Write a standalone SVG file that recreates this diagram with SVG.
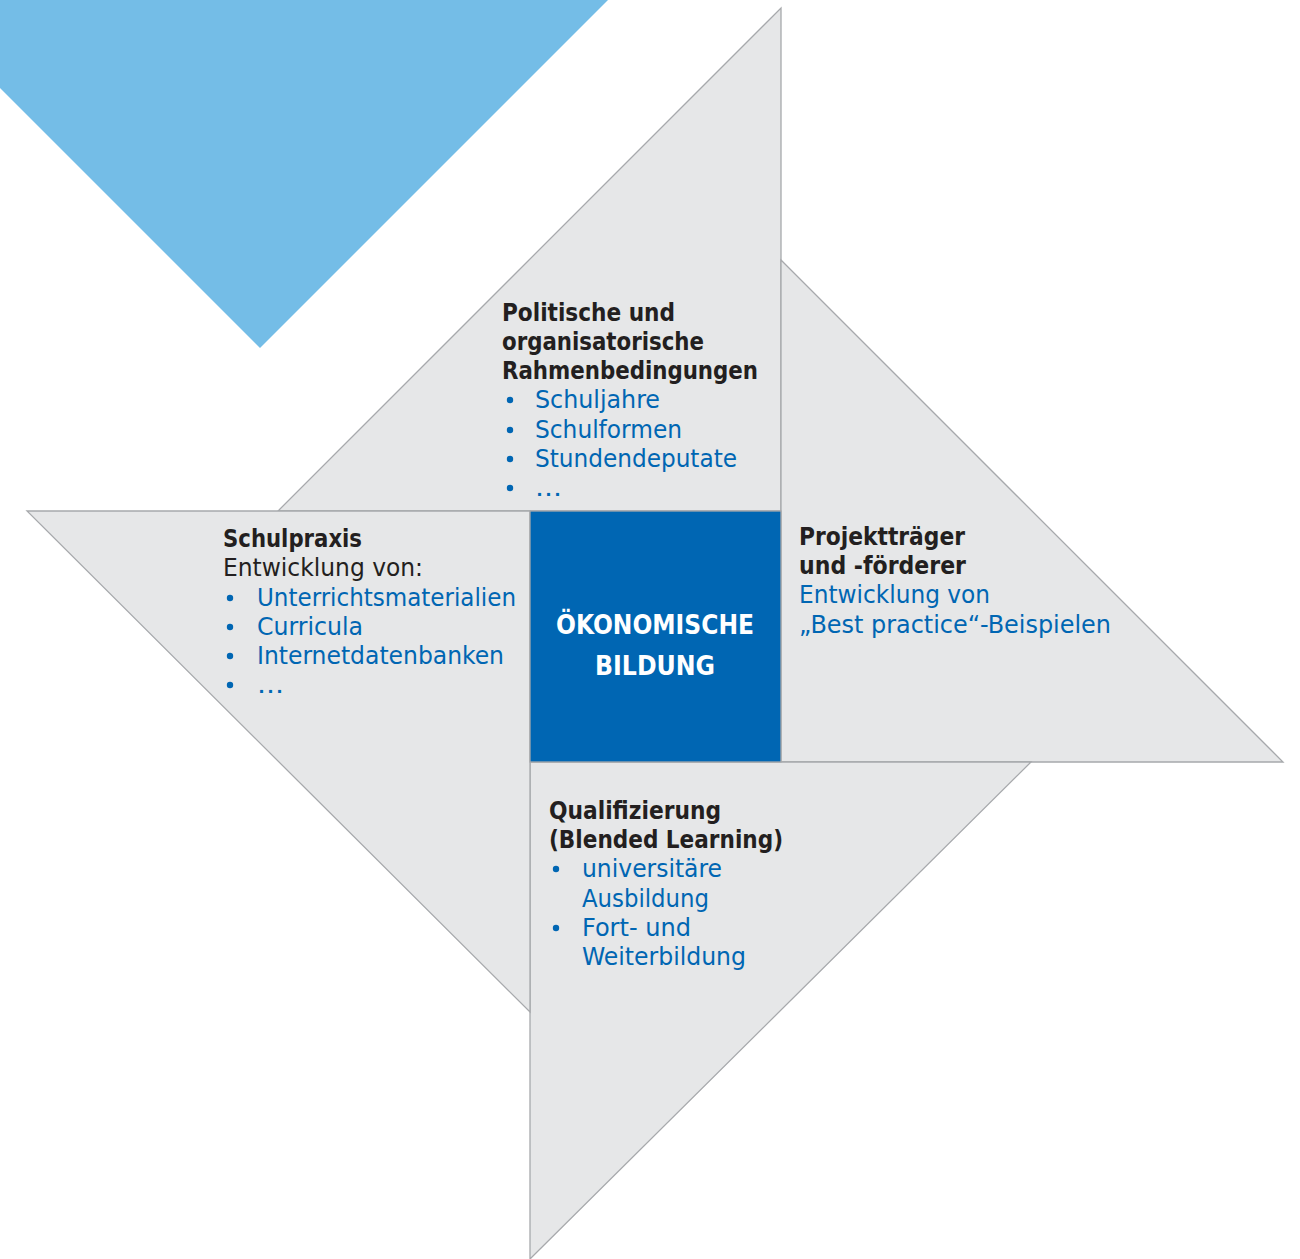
<svg xmlns="http://www.w3.org/2000/svg" width="1300" height="1259" viewBox="0 0 1300 1259">
<style>
.tri{fill:#E6E7E8;stroke:#A7A9AC;stroke-width:1.3}
.h{font-family:"DejaVu Sans Condensed","DejaVu Sans",sans-serif;font-size:24px;font-weight:bold;fill:#231F20}
.d{font-family:"DejaVu Sans Condensed","DejaVu Sans",sans-serif;font-size:24px;fill:#231F20}
.b{font-family:"DejaVu Sans Condensed","DejaVu Sans",sans-serif;font-size:24px;fill:#0066B3}
.c{font-family:"DejaVu Sans Condensed","DejaVu Sans",sans-serif;font-size:26px;font-weight:bold;fill:#FFFFFF}
.dot{fill:#0066B3}
</style>
<rect x="0" y="0" width="1300" height="1259" fill="#FFFFFF"/>
<polygon id="deco" points="0,0 608,0 260,348 0,88" fill="#74BDE7"/>
<g id="node-top">
<polygon class="tri" points="781,8 781,511 278,511"/>
<text class="h" x="502" y="321" textLength="173" lengthAdjust="spacingAndGlyphs">Politische und</text>
<text class="h" x="502" y="350" textLength="202" lengthAdjust="spacingAndGlyphs">organisatorische</text>
<text class="h" x="502" y="379" textLength="256" lengthAdjust="spacingAndGlyphs">Rahmenbedingungen</text>
<circle class="dot" cx="510" cy="400" r="3.2"/>
<text class="b" x="535" y="408" textLength="125" lengthAdjust="spacingAndGlyphs">Schuljahre</text>
<circle class="dot" cx="510" cy="430" r="3.2"/>
<text class="b" x="535" y="438" textLength="147" lengthAdjust="spacingAndGlyphs">Schulformen</text>
<circle class="dot" cx="510" cy="459" r="3.2"/>
<text class="b" x="535" y="467" textLength="202" lengthAdjust="spacingAndGlyphs">Stundendeputate</text>
<circle class="dot" cx="510" cy="488" r="3.2"/>
<text class="b" x="535" y="496" textLength="27" lengthAdjust="spacingAndGlyphs">...</text>
</g>
<g id="node-right">
<polygon class="tri" points="781,260 1283,762 781,762"/>
<text class="h" x="799" y="545" textLength="166" lengthAdjust="spacingAndGlyphs">Projektträger</text>
<text class="h" x="799" y="574" textLength="167" lengthAdjust="spacingAndGlyphs">und -förderer</text>
<text class="b" x="799" y="603" textLength="191" lengthAdjust="spacingAndGlyphs">Entwicklung von</text>
<text class="b" x="799" y="633" textLength="312" lengthAdjust="spacingAndGlyphs">„Best practice“-Beispielen</text>
</g>
<g id="node-bottom">
<polygon class="tri" points="530,762 1031,762 530,1259"/>
<text class="h" x="549" y="819" textLength="172" lengthAdjust="spacingAndGlyphs">Qualifizierung</text>
<text class="h" x="549" y="848" textLength="234" lengthAdjust="spacingAndGlyphs">(Blended Learning)</text>
<circle class="dot" cx="556" cy="869" r="3.2"/>
<text class="b" x="582" y="877" textLength="140" lengthAdjust="spacingAndGlyphs">universitäre</text>
<text class="b" x="582" y="907" textLength="127" lengthAdjust="spacingAndGlyphs">Ausbildung</text>
<circle class="dot" cx="556" cy="928" r="3.2"/>
<text class="b" x="582" y="936" textLength="109" lengthAdjust="spacingAndGlyphs">Fort- und</text>
<text class="b" x="582" y="965" textLength="164" lengthAdjust="spacingAndGlyphs">Weiterbildung</text>
</g>
<g id="node-left">
<polygon class="tri" points="27,511 530,511 530,1012"/>
<text class="h" x="223" y="547" textLength="139" lengthAdjust="spacingAndGlyphs">Schulpraxis</text>
<text class="d" x="223" y="576" textLength="200" lengthAdjust="spacingAndGlyphs">Entwicklung von:</text>
<circle class="dot" cx="230" cy="598" r="3.2"/>
<text class="b" x="257" y="606" textLength="259" lengthAdjust="spacingAndGlyphs">Unterrichtsmaterialien</text>
<circle class="dot" cx="230" cy="627" r="3.2"/>
<text class="b" x="257" y="635" textLength="106" lengthAdjust="spacingAndGlyphs">Curricula</text>
<circle class="dot" cx="230" cy="656" r="3.2"/>
<text class="b" x="257" y="664" textLength="247" lengthAdjust="spacingAndGlyphs">Internetdatenbanken</text>
<circle class="dot" cx="230" cy="685" r="3.2"/>
<text class="b" x="257" y="693" textLength="27" lengthAdjust="spacingAndGlyphs">...</text>
</g>
<g id="node-center">
<rect x="530" y="511" width="251" height="251" fill="#0066B3" stroke="#A7A9AC" stroke-width="1.3"/>
<text class="c" x="655" y="634" text-anchor="middle" textLength="198" lengthAdjust="spacingAndGlyphs">ÖKONOMISCHE</text>
<text class="c" x="655" y="675" text-anchor="middle" textLength="120" lengthAdjust="spacingAndGlyphs">BILDUNG</text>
</g>
<g id="connectors"></g>
</svg>
